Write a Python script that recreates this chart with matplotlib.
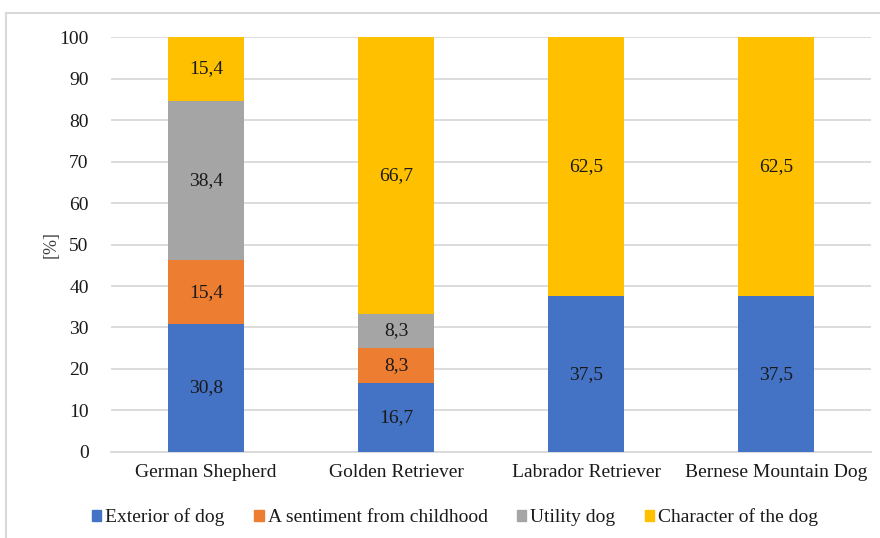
import numpy as np
import matplotlib.pyplot as plt
from matplotlib.lines import Line2D

# breeds and reasons for choosing them, share in percent
breeds = ['German Shepherd', 'Golden Retriever', 'Labrador Retriever', 'Bernese Mountain Dog']
reasons = ['Exterior of dog', 'A sentiment from childhood', 'Utility dog', 'Character of the dog']
exterior = [30.8, 16.7, 37.5, 37.5]
sentiment = [15.4, 8.3, 0.0, 0.0]
utility = [38.4, 8.3, 0.0, 0.0]
character = [15.4, 66.7, 62.5, 62.5]

colors = ['#4472C4', '#ED7D31', '#A5A5A5', '#FFC000']

plt.rcParams['font.family'] = 'Liberation Serif'

fig = plt.figure(figsize=(8.8, 5.38), dpi=100)
ax = fig.add_axes([0.126, 0.160, 0.864, 0.771])

x = np.arange(len(breeds))
bottom = np.zeros(len(breeds))
for name, vals, col in zip(reasons, [exterior, sentiment, utility, character], colors):
    vals = np.array(vals)
    ax.bar(x, vals, 0.4, bottom=bottom, color=col, label=name, zorder=3)
    for xi, b, v in zip(x, bottom, vals):
        if v > 0:
            ax.text(xi, b + v / 2, ('%.1f' % v).replace('.', ','),
                    ha='center', va='center', fontsize=14, color='#1a1a1a', zorder=4)
    bottom += vals

ax.set_xlim(-0.5, len(breeds) - 0.5)
ax.set_ylim(0, 100)
ax.set_yticks(np.arange(0, 101, 10))
ax.set_xticks(x)
ax.set_xticklabels(breeds)
ax.tick_params(axis='both', length=0, labelsize=14, colors='#1a1a1a')
ax.tick_params(axis='y', pad=16)
ax.tick_params(axis='x', pad=9)
ax.yaxis.grid(True, color='#D9D9D9', linewidth=1.3, zorder=0)
for s in ['top', 'right', 'left']:
    ax.spines[s].set_visible(False)
ax.spines['bottom'].set_color('#D9D9D9')
ax.spines['bottom'].set_linewidth(1.3)
ax.set_ylabel('[%]', fontsize=13, color='#404040', labelpad=0)

handles = [plt.Rectangle((0, 0), 1, 1, color=c) for c in colors]
fig.legend(handles, reasons, loc='center', bbox_to_anchor=(0.517, 0.039), ncol=4,
           frameon=False, fontsize=14, handlelength=0.5, handleheight=0.5,
           handletextpad=0.2, columnspacing=1.5, labelcolor='#1a1a1a')

# chart frame lines along top and left edge
fig.add_artist(Line2D([6 / 880, 1], [1 - 13 / 538, 1 - 13 / 538], color='#D9D9D9', lw=1.5))
fig.add_artist(Line2D([6 / 880, 6 / 880], [0, 1 - 13 / 538], color='#D9D9D9', lw=1.5))

fig.savefig('out.png', dpi=100)
